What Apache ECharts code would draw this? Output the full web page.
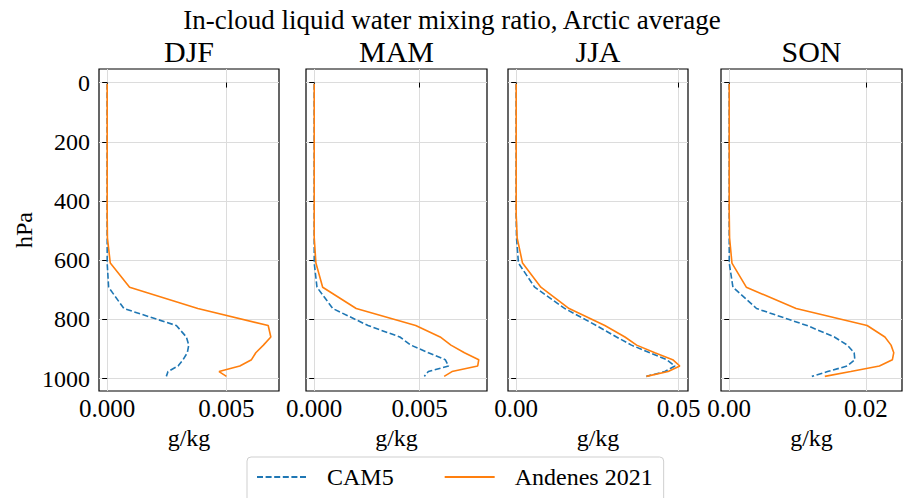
<!DOCTYPE html>
<html><head><meta charset="utf-8">
<script src="https://cdn.jsdelivr.net/npm/echarts@6/dist/echarts.min.js"></script>
<style>html,body{margin:0;padding:0;background:#fff}#c{width:904px;height:498px}</style>
</head><body><div id="c"></div>
<script>
// Pressure levels (hPa)
const levels = [3.64, 7.59, 14.36, 24.61, 38.27, 54.60, 72.01, 87.82, 103.32, 121.55, 142.99, 168.23, 197.91, 232.83, 273.91, 322.24, 379.10, 445.99, 524.69, 609.78, 691.39, 763.40, 820.86, 859.53, 887.02, 912.64, 936.20, 957.49, 976.33, 992.56];
const seasons = ['DJF', 'MAM', 'JJA', 'SON'];
const Z18 = [0,0,0,0,0,0,0,0,0,0,0,0,0,0,0,0,0,0];
// g/kg values per level
const cam5DJF = Z18.concat([0.00000, 0.00000, 0.00006, 0.00070, 0.00290, 0.00332, 0.00342, 0.00336, 0.00318, 0.00297, 0.00255, 0.00248]);
const andDJF  = Z18.concat([0.00001, 0.00013, 0.00094, 0.00380, 0.00675, 0.00686, 0.00655, 0.00623, 0.00605, 0.00556, 0.00469, 0.00500]);
const cam5MAM = Z18.concat([0.00000, 0.00000, 0.00013, 0.00088, 0.00255, 0.00406, 0.00458, 0.00541, 0.00621, 0.00637, 0.00541, 0.00522]);
const andMAM  = Z18.concat([0.00000, 0.00008, 0.00040, 0.00199, 0.00481, 0.00597, 0.00648, 0.00712, 0.00780, 0.00775, 0.00653, 0.00616]);
const cam5JJA = Z18.concat([0.0001, 0.0007, 0.0057, 0.0150, 0.0247, 0.0309, 0.0355, 0.0412, 0.0463, 0.0489, 0.0458, 0.0401]);
const andJJA  = Z18.concat([0.0003, 0.00195, 0.0076, 0.0163, 0.0273, 0.0335, 0.0371, 0.0427, 0.0482, 0.0504, 0.0468, 0.0401]);
const cam5SON = Z18.concat([0.0000, 0.0000, 0.00054, 0.0040, 0.0114, 0.0154, 0.0173, 0.0183, 0.0184, 0.0173, 0.0144, 0.0121]);
const andSON  = Z18.concat([0.00005, 0.0004, 0.0025, 0.0098, 0.0202, 0.0228, 0.0237, 0.0241, 0.0239, 0.0220, 0.0178, 0.0140]);
const cam5All = [cam5DJF, cam5MAM, cam5JJA, cam5SON];
const andAll = [andDJF, andMAM, andJJA, andSON];
// tick labels
const xTicks = [[0, 0.005], [0, 0.005], [0, 0.05], [0, 0.02]];
const xDecimals = [3, 3, 2, 2];
const yTicks = [0, 200, 400, 600, 800, 1000];
const titleText = 'In-cloud liquid water mixing ratio, Arctic average';
const xName = 'g/kg';
const yName = 'hPa';
const seriesNames = ['CAM5', 'Andenes 2021'];

// layout
const FONT = "'Liberation Serif', 'Times New Roman', serif";
const gridLeft = [99, 306, 508, 721];
const gridWidth = [180, 181, 180, 181];
const gridTop = 69, gridHeight = 322;

function pad(arr) { // matplotlib-like 5% margins
  const mn = Math.min(...arr), mx = Math.max(...arr);
  const m = (mx - mn) * 0.05;
  return [mn - m, mx + m];
}
const yAll = pad(levels);

const grids = [], xAxes = [], yAxes = [], series = [], graphics = [];
for (let i = 0; i < 4; i++) {
  grids.push({left: gridLeft[i], top: gridTop, width: gridWidth[i], height: gridHeight,
    show: true, borderColor: '#000', borderWidth: 1.2, backgroundColor: 'transparent'});
  const xr = pad(cam5All[i].concat(andAll[i]));
  const dec = xDecimals[i];
  xAxes.push({type: 'value', gridIndex: i, min: xr[0], max: xr[1],
    name: xName, nameLocation: 'middle', nameGap: 34,
    nameTextStyle: {fontFamily: FONT, fontSize: 24, color: '#000'},
    axisLine: {show: false},
    axisTick: {show: true, inside: false, length: 5, lineStyle: {color: '#000', width: 1}, customValues: xTicks[i]},
    axisLabel: {show: true, margin: 5, fontFamily: FONT, fontSize: 25, color: '#000', customValues: xTicks[i],
      formatter: v => v.toFixed(dec)},
    splitLine: {show: true, lineStyle: {color: '#dcdcdc', width: 1}, customValues: xTicks[i]}
  });
  yAxes.push({type: 'value', gridIndex: i, inverse: true, min: yAll[0], max: yAll[1],
    axisLine: {show: false},
    axisTick: {show: true, inside: false, length: 5, lineStyle: {color: '#000', width: 1}, customValues: yTicks},
    axisLabel: {show: i === 0, margin: 9, fontFamily: FONT, fontSize: 24, color: '#000', customValues: yTicks,
      formatter: v => String(Math.round(v))},
    splitLine: {show: true, lineStyle: {color: '#dcdcdc', width: 1}, customValues: yTicks}
  });
  series.push({name: seriesNames[0], type: 'line', xAxisIndex: i, yAxisIndex: i,
    data: levels.map((p, j) => [cam5All[i][j], p]), symbol: 'none', showSymbol: false,
    lineStyle: {color: '#1f77b4', width: 1.6, type: [6, 2.6]}, itemStyle: {color: '#1f77b4'},
    silent: true, animation: false, z: 3});
  series.push({name: seriesNames[1], type: 'line', xAxisIndex: i, yAxisIndex: i,
    data: levels.map((p, j) => [andAll[i][j], p]), symbol: 'none', showSymbol: false,
    lineStyle: {color: '#ff7f0e', width: 1.6, type: 'solid'}, itemStyle: {color: '#ff7f0e'},
    silent: true, animation: false, z: 4});
  graphics.push({type: 'text', x: gridLeft[i] + gridWidth[i] / 2, y: 51,
    style: {text: seasons[i], font: '30px ' + FONT, fill: '#000', align: 'center', verticalAlign: 'middle'}});
}
graphics.push({type: 'text', x: 452, y: 20,
  style: {text: titleText, font: '27px ' + FONT, fill: '#000', align: 'center', verticalAlign: 'middle'}});
graphics.push({type: 'text', x: 24, y: 230, rotation: Math.PI / 2,
  style: {text: yName, font: '24px ' + FONT, fill: '#000', align: 'center', verticalAlign: 'middle'}});

const chart = echarts.init(document.getElementById('c'), null, {renderer: 'svg', width: 904, height: 498});
chart.setOption({
  animation: false,
  backgroundColor: '#fff',
  grid: grids, xAxis: xAxes, yAxis: yAxes, series: series,
  graphic: graphics,
  legend: {data: seriesNames, left: 247, top: 457, orient: 'horizontal',
    itemWidth: 50, itemHeight: 16, itemGap: 50,
    padding: [8, 11, 16, 9], borderColor: '#cfcfcf', borderWidth: 1, borderRadius: 4,
    backgroundColor: '#fff',
    itemStyle: {opacity: 0, borderWidth: 0},
    textStyle: {fontFamily: FONT, fontSize: 24, color: '#000', padding: [0, 0, 0, 15]}}
});
</script></body></html>
